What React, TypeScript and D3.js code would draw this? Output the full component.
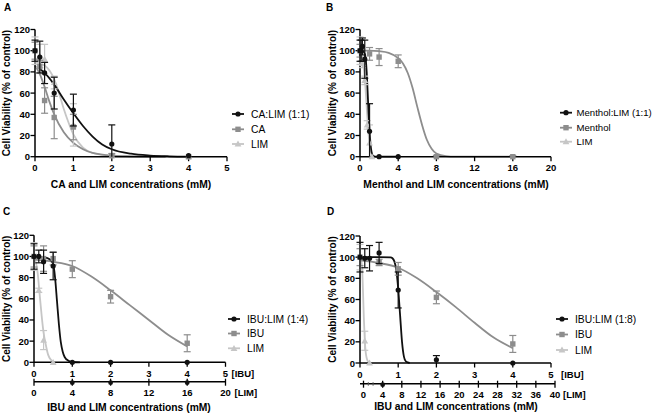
import React from "react";
import * as d3 from "d3";

type P = [number, number, number];
type C = [number, number];

const FONT = "'Liberation Sans', Arial, Helvetica, sans-serif";

const yTicks = [0, 20, 40, 60, 80, 100, 120];
const ticksA = [0, 1, 2, 3, 4, 5];
const ticksB = [0, 4, 8, 12, 16, 20];
const ticksIBU = [0, 1, 2, 3, 4, 5];
const ticksLimC = [0, 4, 8, 12, 16, 20];
const ticksLimD = [0, 4, 8, 12, 16, 20, 24, 28, 32, 36, 40];

const yTitle = "Cell Viability (% of control)";
const xTitleA = "CA and LIM concentrations (mM)";
const xTitleB = "Menthol and LIM concentrations (mM)";
const xTitleC = "IBU and LIM concentrations (mM)";
const xTitleD = "IBU and LIM concentrations (mM)";
const legendA = ["CA:LIM (1:1)", "CA", "LIM"];
const legendB = ["Menthol:LIM (1:1)", "Menthol", "LIM"];
const legendC = ["IBU:LIM (1:4)", "IBU", "LIM"];
const legendD = ["IBU:LIM (1:8)", "IBU", "LIM"];

// ---- Panel A ----
const aMixPts: P[] = [[0, 100, 10], [0.125, 94, 15], [0.25, 79, 10], [0.5, 60, 15], [1, 44, 15], [2, 12, 18], [4, 1, 0]];
const aMixCurve: C[] = [[0.12, 83], [0.25, 79], [0.5, 68], [0.75, 54], [1, 41], [1.25, 29], [1.5, 19], [1.75, 11.5], [2, 7], [2.5, 2.8], [3, 1.1], [3.5, 0.4], [4, 0.1]];
const aCAPts: P[] = [[0, 100, 8], [0.125, 85, 6], [0.25, 53, 12], [0.5, 37, 20], [1, 28, 12], [2, 1, 2], [4, 0, 0]];
const aCACurve: C[] = [[0, 86], [0.125, 78], [0.25, 66], [0.375, 52], [0.5, 40], [0.75, 23], [1, 13], [1.25, 7], [1.5, 3.5], [2, 1], [2.5, 0.4], [3, 0.1], [3.4, 0]];
const aLimPts: P[] = [[0, 100, 13], [0.125, 95, 11], [0.25, 92, 14], [0.5, 70, 6], [1, 30, 20], [2, 1, 1], [4, 0, 0]];
const aLimCurve: C[] = [[0, 89], [0.25, 86], [0.5, 73], [0.625, 60], [0.75, 45], [0.875, 32], [1, 21], [1.25, 8.5], [1.5, 3.5], [2, 0.8], [2.5, 0.2], [3.4, 0]];

// ---- Panel B ----
const bMixPts: P[] = [[0, 100, 10], [0.125, 100, 10], [0.25, 104, 8], [0.5, 92, 18], [1, 24, 26], [2, 0, 0], [4, 0, 0]];
const bMixCurve: C[] = [[0, 100], [0.3, 99.5], [0.5, 97], [0.6, 92], [0.7, 80], [0.8, 61], [0.9, 41], [1.0, 25], [1.1, 12], [1.2, 5], [1.35, 1], [1.6, 0], [4, 0]];
const bMenPts: P[] = [[0, 100, 6], [1, 97, 6], [2, 94, 8], [4, 90, 6], [8, 0, 1], [16, 0, 1]];
const bMenCurve: C[] = [[0, 100], [1, 100], [2, 99.5], [3, 98], [4, 93], [4.5, 88], [5, 79], [5.5, 65], [6, 47], [6.5, 30], [7, 16], [7.5, 7.5], [8, 3], [9, 0.6], [10, 0.1], [16, 0]];
const bLimPts: P[] = [[0, 100, 13], [0.25, 88, 4], [0.5, 72, 4], [0.75, 30, 4], [1, 13, 17], [1.25, 0, 0]];
const bLimCurve: C[] = [[0, 93], [0.25, 90], [0.5, 74], [0.625, 58], [0.75, 40], [0.875, 24], [1, 12], [1.125, 5], [1.25, 2], [1.5, 0]];

// ---- Panel C ----
const cMixPts: P[] = [[0, 100, 12], [0.125, 100, 6], [0.25, 95, 11], [0.5, 91, 13], [1, 0, 0], [2, 0, 0], [4, 0, 0]];
const cMixCurve: C[] = [[0, 100], [0.2, 99.5], [0.35, 98.5], [0.45, 96], [0.5, 93], [0.55, 80], [0.6, 58], [0.65, 36], [0.7, 19], [0.75, 10], [0.8, 5], [0.9, 1.5], [1, 0.3], [1.2, 0]];
const cIbuPts: P[] = [[0, 100, 10], [0.25, 98, 12], [0.5, 98, 6], [1, 88, 8], [2, 62, 6], [4, 18, 8]];
const cIbuCurve: C[] = [[0, 97], [0.5, 95], [1, 91], [1.5, 81], [2, 68], [2.5, 54], [3, 40], [3.5, 26], [4, 15]];
const cLimPts: P[] = [[0, 100, 13], [0.125, 68, 2], [0.25, 21, 9], [0.5, 0, 0]];
const cLimCurve: C[] = [[0, 97], [0.05, 94], [0.1, 83], [0.14, 67], [0.2, 44], [0.25, 28], [0.3, 18], [0.37, 7], [0.45, 2], [0.5, 0.3]];
const cAxisMarks = [4, 8, 16];

// ---- Panel D ----
const dMixPts: P[] = [[0, 100, 14], [0.125, 99, 9], [0.25, 99, 12], [0.5, 104, 10], [1, 69, 17], [2, 3, 4], [4, 0, 0]];
const dMixCurve: C[] = [[0, 100], [0.5, 100], [0.8, 99.8], [0.85, 99], [0.9, 96], [0.95, 88], [1.0, 70], [1.05, 45], [1.1, 20], [1.15, 6], [1.2, 1.5], [1.3, 0]];
const dIbuPts: P[] = [[0, 100, 8], [0.5, 95, 3], [1, 89, 6], [2, 62, 6], [4, 18, 8]];
const dIbuCurve: C[] = [[0, 97], [0.5, 94.5], [1, 90], [1.5, 80], [2, 67], [2.5, 53], [3, 38], [3.5, 24], [4, 14]];
const dLimPts: P[] = [[0, 100, 12], [0.125, 21, 9], [0.25, 0, 0]];
const dLimCurve: C[] = [[0, 97], [0.04, 95], [0.06, 86], [0.08, 66], [0.1, 43], [0.125, 22], [0.15, 10], [0.2, 2], [0.25, 0.3]];
const dAxisMarks = [4];
const dAxisSmall = [1, 2];

const BLACK = "#111";
const GRAY = "#8d8d8d";
const LIGHT = "#c6c6c6";

type Series = { pts: P[]; curve: C[]; color: string; marker: "circle" | "square" | "tri" };

function Marker({ type, x, y, color, s = 1 }: { type: string; x: number; y: number; color: string; s?: number }) {
  if (type === "circle") return <circle cx={x} cy={y} r={2.6 * s} fill={color} />;
  if (type === "square") return <rect x={x - 2.7 * s} y={y - 2.7 * s} width={5.4 * s} height={5.4 * s} fill={color} />;
  return <path d={`M${x},${y - 3.4 * s}L${x + 3.4 * s},${y + 2.6 * s}L${x - 3.4 * s},${y + 2.6 * s}Z`} fill={color} />;
}

type PanelCfg = {
  x0: number; x1: number; xMax: number; yBottom: number; yTop: number;
  xTicks: number[]; series: Series[]; legend: string[];
  legX: number; legRows: number[]; legFont: number; legGap: number;
  xTitle: string; xTitleX: number; xTitleY: number;
  yTitleX: number; label: string; labelX: number; labelY: number;
  lim?: { y: number; l0: number; l1: number; lineStart: number; max: number; ticks: number[]; marks: number[]; small: number[]; ibuTagX: number; limTagX: number };
};

function Panel({ c }: { c: PanelCfg }) {
  const xs = d3.scaleLinear().domain([0, c.xMax]).range([c.x0, c.x1]);
  const ys = d3.scaleLinear().domain([0, 120]).range([c.yBottom, c.yTop]);
  const line = d3.line<C>().x(d => xs(d[0])).y(d => ys(d[1])).curve(d3.curveMonotoneX);
  const order = [...c.series].reverse();
  const tickFont = { fontFamily: FONT, fontSize: 9.5, fontWeight: 700 as const };
  const ibuLabelY = c.yBottom + 14.5;
  return (
    <g>
      <text x={c.labelX} y={c.labelY} style={{ fontFamily: FONT, fontSize: 10, fontWeight: 700 }}>{c.label}</text>
      <text transform={`translate(${c.yTitleX},${(c.yBottom + c.yTop) / 2}) rotate(-90)`} textAnchor="middle" dominantBaseline="central"
        style={{ fontFamily: FONT, fontSize: 10, fontWeight: 700 }}>{yTitle}</text>
      {order.map((s, i) => (
        <path key={"c" + i} d={line(s.curve) || ""} fill="none" stroke={s.color} strokeWidth={1.8} />
      ))}
      <line x1={c.x0} x2={c.x0} y1={c.yBottom} y2={c.yTop} stroke="#000" strokeWidth={1.5} />
      {yTicks.map(t => (
        <g key={"yt" + t}>
          <line x1={c.x0 - 4.5} x2={c.x0} y1={ys(t)} y2={ys(t)} stroke="#000" strokeWidth={1.3} />
          <text x={c.x0 - 5} y={ys(t)} textAnchor="end" dominantBaseline="central" style={tickFont}>{t}</text>
        </g>
      ))}
      <line x1={c.x0} x2={c.x1} y1={c.yBottom} y2={c.yBottom} stroke="#000" strokeWidth={1.5} />
      {c.xTicks.map(t => (
        <g key={"xt" + t}>
          <line x1={xs(t)} x2={xs(t)} y1={c.yBottom} y2={c.yBottom + 4.5} stroke="#000" strokeWidth={1.3} />
          <text x={xs(t)} y={ibuLabelY} textAnchor="middle" style={tickFont}>{t}</text>
        </g>
      ))}
      {c.lim && (() => {
        const L = c.lim;
        const ls = d3.scaleLinear().domain([0, L.max]).range([L.l0, L.l1]);
        return (
          <g>
            <text x={L.ibuTagX} y={ibuLabelY} style={tickFont}>[IBU]</text>
            <line x1={L.lineStart} x2={L.l1} y1={L.y} y2={L.y} stroke="#000" strokeWidth={1.5} />
            {L.ticks.map(t => (
              <g key={"lt" + t}>
                <line x1={ls(t)} x2={ls(t)} y1={L.y - 3} y2={L.y + 4} stroke="#000" strokeWidth={1.3} />
                <text x={ls(t)} y={L.y + 14.5} textAnchor="middle" style={tickFont}>{t}</text>
              </g>
            ))}
            {L.marks.map(t => <circle key={"m" + t} cx={ls(t)} cy={L.y + 1} r={2.4} fill={BLACK} />)}
            {L.small.map(t => <line key={"s" + t} x1={ls(t)} x2={ls(t)} y1={L.y - 1.5} y2={L.y + 2} stroke="#555" strokeWidth={1} />)}
            <text x={L.limTagX} y={L.y + 14.5} style={tickFont}>[LIM]</text>
          </g>
        );
      })()}
      {order.map((s, i) => (
        <g key={"p" + i}>
          {s.pts.map((p, j) => {
            const px = xs(p[0]);
            const lo = ys(Math.max(0, p[1] - p[2]));
            const hi = ys(p[1] + p[2]);
            return (
              <g key={j}>
                {p[2] > 0 && (
                  <g stroke={s.color} strokeWidth={1.2}>
                    <line x1={px} x2={px} y1={lo} y2={hi} />
                    <line x1={px - 3.5} x2={px + 3.5} y1={hi} y2={hi} />
                    {p[1] - p[2] > 0 && <line x1={px - 3.5} x2={px + 3.5} y1={lo} y2={lo} />}
                  </g>
                )}
                <Marker type={s.marker} x={px} y={ys(p[1])} color={s.color} />
              </g>
            );
          })}
        </g>
      ))}
      {c.series.map((s, i) => (
        <g key={"l" + i}>
          <line x1={c.legX} x2={c.legX + 12} y1={c.legRows[i]} y2={c.legRows[i]} stroke={s.color} strokeWidth={1.8} />
          <Marker type={s.marker} x={c.legX + 6} y={c.legRows[i]} color={s.color} />
          <text x={c.legX + c.legGap} y={c.legRows[i]} dominantBaseline="central" style={{ fontFamily: FONT, fontSize: c.legFont }}>{c.legend[i]}</text>
        </g>
      ))}
      <text x={c.xTitleX} y={c.xTitleY} textAnchor="middle" style={{ fontFamily: FONT, fontSize: 10.3, fontWeight: 700 }}>{c.xTitle}</text>
    </g>
  );
}

const mk = (pts: P[], curve: C[], color: string, marker: "circle" | "square" | "tri"): Series => ({ pts, curve, color, marker });

const panels: PanelCfg[] = [
  {
    x0: 35, x1: 227, xMax: 5, yBottom: 156.7, yTop: 29.5, xTicks: ticksA,
    series: [mk(aMixPts, aMixCurve, BLACK, "circle"), mk(aCAPts, aCACurve, GRAY, "square"), mk(aLimPts, aLimCurve, LIGHT, "tri")],
    legend: legendA, legX: 232, legRows: [114, 129.3, 144], legFont: 10.3, legGap: 19,
    xTitle: xTitleA, xTitleX: 131, xTitleY: 188, yTitleX: 6, label: "A", labelX: 4, labelY: 11,
  },
  {
    x0: 360, x1: 551, xMax: 20, yBottom: 156.7, yTop: 29.5, xTicks: ticksB,
    series: [mk(bMixPts, bMixCurve, BLACK, "circle"), mk(bMenPts, bMenCurve, GRAY, "square"), mk(bLimPts, bLimCurve, LIGHT, "tri")],
    legend: legendB, legX: 560, legRows: [112.7, 127.7, 141.7], legFont: 9.6, legGap: 16.5,
    xTitle: xTitleB, xTitleX: 456, xTitleY: 188, yTitleX: 332, label: "B", labelX: 326, labelY: 11,
  },
  {
    x0: 34, x1: 225.5, xMax: 5, yBottom: 362.3, yTop: 235.3, xTicks: ticksIBU,
    series: [mk(cMixPts, cMixCurve, BLACK, "circle"), mk(cIbuPts, cIbuCurve, GRAY, "square"), mk(cLimPts, cLimCurve, LIGHT, "tri")],
    legend: legendC, legX: 228, legRows: [319, 333.5, 348.3], legFont: 10.3, legGap: 19,
    xTitle: xTitleC, xTitleX: 129, xTitleY: 411, yTitleX: 6, label: "C", labelX: 3, labelY: 215,
    lim: { y: 381.7, l0: 34, l1: 225.5, lineStart: 34, max: 20, ticks: ticksLimC, marks: cAxisMarks, small: [], ibuTagX: 231.5, limTagX: 234.5 },
  },
  {
    x0: 360, x1: 551, xMax: 5, yBottom: 363, yTop: 236, xTicks: ticksIBU,
    series: [mk(dMixPts, dMixCurve, BLACK, "circle"), mk(dIbuPts, dIbuCurve, GRAY, "square"), mk(dLimPts, dLimCurve, LIGHT, "tri")],
    legend: legendD, legX: 556, legRows: [319, 334.5, 350], legFont: 10.3, legGap: 19,
    xTitle: xTitleD, xTitleX: 456, xTitleY: 410, yTitleX: 332, label: "D", labelX: 327, labelY: 215,
    lim: { y: 383.7, l0: 363.5, l1: 555, lineStart: 360, max: 40, ticks: ticksLimD, marks: dAxisMarks, small: dAxisSmall, ibuTagX: 561, limTagX: 563 },
  },
];

export default function App() {
  return (
    <svg width={658} height={415} viewBox="0 0 658 415"
      style={{ position: "absolute", left: 0, top: 0, background: "#fff" }}>
      <rect width={658} height={415} fill="#fff" />
      {panels.map((p, i) => <Panel key={i} c={p} />)}
    </svg>
  );
}
